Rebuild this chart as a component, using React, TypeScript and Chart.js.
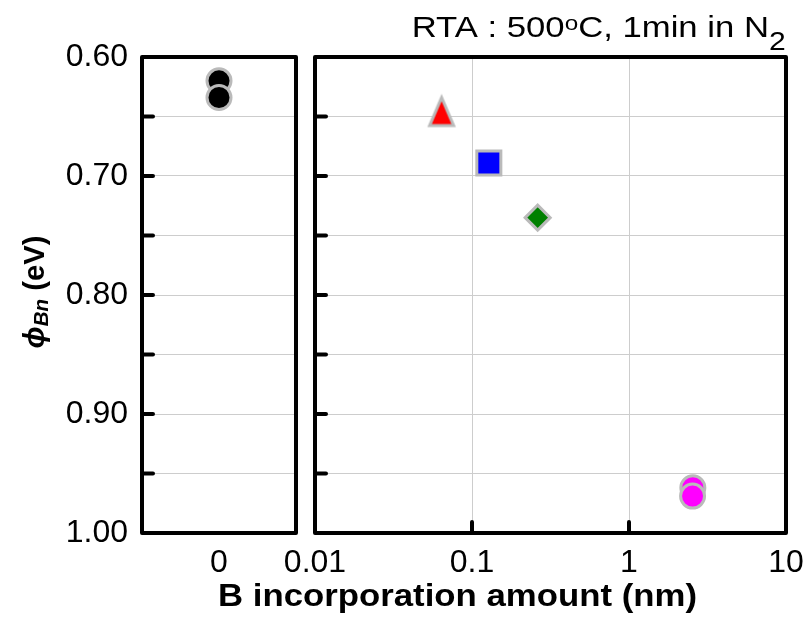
import React, { useEffect, useRef } from 'react';
import { Chart, registerables } from 'chart.js';

Chart.register(...registerables);

const FONT = "Arial, 'Liberation Sans', Helvetica, sans-serif";

// ---- Y axis (reversed) ----
const Y_MIN = 0.6;
const Y_MAX = 1.0;
const Y_STEP = 0.05;
const yTickLabels = ['0.60', '0.70', '0.80', '0.90', '1.00'];

// ---- Left panel: reference sample (0 nm) ----
const leftCategories = ['0'];
const refX = ['0', '0'];
const refY = [0.62, 0.634];

// ---- Right panel: log x axis ----
const X_MIN = 0.01;
const X_MAX = 10;
const xTickValues = [0.01, 0.1, 1, 10];
const xTickLabels = ['0.01', '0.1', '1', '10'];
const xInnerTickValues = [0.1, 1];

const triX = [0.064];
const triY = [0.645];
const sqX = [0.128];
const sqY = [0.689];
const diaX = [0.262];
const diaY = [0.735];
const magX = [2.55, 2.54];
const magY = [0.962, 0.969];

// ---- Texts ----
const annotationParts = ['RTA : 500', 'o', 'C, 1min in N', '2'];
const xTitleText = 'B incorporation amount (nm)';
const yTitleParts = ['\u03D5', 'Bn', ' (eV)'];

// ---- Layout ----
const W = 808;
const H = 618;
const TOP = 57;
const BOTTOM = 533;
const LEFT_L = 142;
const LEFT_R = 296;
const RIGHT_L = 315;
const RIGHT_R = 786;

const GRID = '#cdcdcd';
const BORDER = '#bababa';

type Seg = { text: string; font: string; dy: number };

function drawRich(ctx: CanvasRenderingContext2D, segs: Seg[], x: number, y: number, target: number, align: 'left' | 'center') {
  let w = 0;
  for (const s of segs) {
    ctx.font = s.font;
    w += ctx.measureText(s.text).width;
  }
  const sx = target / w;
  ctx.save();
  ctx.translate(x, y);
  ctx.scale(sx, 1);
  ctx.textAlign = 'left';
  ctx.textBaseline = 'alphabetic';
  let cx = align === 'center' ? -w / 2 : 0;
  for (const s of segs) {
    ctx.font = s.font;
    ctx.fillText(s.text, cx, s.dy);
    cx += ctx.measureText(s.text).width;
  }
  ctx.restore();
}

function makeTriangle(fill: string, stroke: string): HTMLCanvasElement {
  const c = document.createElement('canvas');
  c.width = 34;
  c.height = 36;
  const g = c.getContext('2d')!;
  g.beginPath();
  g.moveTo(17, 5);
  g.lineTo(29, 33);
  g.lineTo(5, 33);
  g.closePath();
  g.fillStyle = fill;
  g.fill();
  g.lineWidth = 3;
  g.lineJoin = 'miter';
  g.strokeStyle = stroke;
  g.stroke();
  return c;
}

function framePlugin(bottomTicks: number[]) {
  return {
    id: 'frameTicks',
    afterDatasetsDraw(chart: any) {
      const { ctx, chartArea: a } = chart;
      const ys = chart.scales.y;
      const xs = chart.scales.x;
      ctx.save();
      ctx.strokeStyle = '#000';
      ctx.lineWidth = 4;
      ctx.lineCap = 'round';
      ctx.beginPath();
      ys.ticks.forEach((t: any) => {
        if (t.value <= Y_MIN + 1e-9 || t.value >= Y_MAX - 1e-9) return;
        const p = ys.getPixelForValue(t.value);
        ctx.moveTo(a.left, p);
        ctx.lineTo(a.left + 11, p);
      });
      bottomTicks.forEach((v) => {
        const p = xs.getPixelForValue(v);
        ctx.moveTo(p, a.bottom);
        ctx.lineTo(p, a.bottom - 11);
      });
      ctx.stroke();
      ctx.lineJoin = 'round';
      ctx.strokeRect(a.left, a.top, a.right - a.left, a.bottom - a.top);
      ctx.restore();
    },
  };
}

const textPlugin = {
  id: 'texts',
  afterDraw(chart: any) {
    const ctx: CanvasRenderingContext2D = chart.ctx;
    ctx.save();
    ctx.fillStyle = '#000';
    drawRich(
      ctx,
      [
        { text: annotationParts[0], font: `30px ${FONT}`, dy: 0 },
        { text: annotationParts[1], font: `21px ${FONT}`, dy: -7 },
        { text: annotationParts[2], font: `30px ${FONT}`, dy: 0 },
        { text: annotationParts[3], font: `26px ${FONT}`, dy: 13 },
      ],
      411.7,
      36.7,
      374,
      'left'
    );
    drawRich(ctx, [{ text: xTitleText, font: `bold 31px ${FONT}`, dy: 0 }], 218, 606, 479, 'left');
    ctx.translate(44, 292);
    ctx.rotate(-Math.PI / 2);
    drawRich(
      ctx,
      [
        { text: yTitleParts[0], font: `italic bold 30px ${FONT}`, dy: 0 },
        { text: yTitleParts[1], font: `italic bold 21px ${FONT}`, dy: 4 },
        { text: yTitleParts[2], font: `bold 30px ${FONT}`, dy: 0 },
      ],
      0,
      0,
      113,
      'center'
    );
    ctx.restore();
  },
};

const yLabel = (v: any) => {
  const s = Number(v).toFixed(2);
  return yTickLabels.includes(s) ? s : '';
};

const tickFont = { family: FONT, size: 32 };

const fixXAxis = (s: any) => {
  s.height = H - BOTTOM;
  s.paddingLeft = 0;
  s.paddingRight = 0;
};

export default function App() {
  const leftRef = useRef<HTMLCanvasElement>(null);
  const rightRef = useRef<HTMLCanvasElement>(null);

  useEffect(() => {
    const tri = makeTriangle('#ff0000', BORDER);
    const common: any = {
      responsive: false,
      animation: false,
      events: [],
      plugins: { legend: { display: false }, tooltip: { enabled: false } },
    };

    const left = new Chart(leftRef.current!, {
      type: 'scatter',
      data: {
        datasets: [
          {
            data: refX.map((x, i) => ({ x, y: refY[i] })) as any,
            pointStyle: 'circle',
            pointRadius: 12,
            pointBackgroundColor: '#000000',
            pointBorderColor: BORDER,
            pointBorderWidth: 3,
          },
        ],
      },
      options: {
        ...common,
        layout: { padding: { left: 0, top: TOP, right: W - LEFT_R, bottom: 0 } },
        scales: {
          x: {
            type: 'category',
            labels: leftCategories,
            offset: true,
            grid: { display: false, drawTicks: false },
            border: { display: false },
            ticks: { font: tickFont, color: '#000', padding: 11, maxRotation: 0, autoSkip: false },
            afterFit: fixXAxis,
          },
          y: {
            type: 'linear',
            reverse: true,
            min: Y_MIN,
            max: Y_MAX,
            grid: { color: GRID, lineWidth: 1, drawTicks: false },
            border: { display: false },
            ticks: { stepSize: Y_STEP, font: tickFont, color: '#000', padding: 14, autoSkip: false, callback: yLabel },
            afterFit: (s: any) => {
              s.width = LEFT_L;
            },
          },
        },
      } as any,
      plugins: [framePlugin([])],
    });

    const mk = (xs: number[], ys: number[]) => xs.map((x, i) => ({ x, y: ys[i] }));

    const right = new Chart(rightRef.current!, {
      type: 'scatter',
      data: {
        datasets: [
          {
            data: mk(triX, triY),
            pointStyle: tri as any,
            pointRadius: 14,
          },
          {
            data: mk(sqX, sqY),
            pointStyle: 'rect',
            pointRadius: 17,
            pointBackgroundColor: '#0000ff',
            pointBorderColor: BORDER,
            pointBorderWidth: 3,
          },
          {
            data: mk(diaX, diaY),
            pointStyle: 'rectRot',
            pointRadius: 12.5,
            pointBackgroundColor: '#008000',
            pointBorderColor: BORDER,
            pointBorderWidth: 3,
          },
          {
            data: mk(magX, magY),
            pointStyle: 'circle',
            pointRadius: 12,
            pointBackgroundColor: '#ff00ff',
            pointBorderColor: BORDER,
            pointBorderWidth: 3,
          },
        ],
      },
      options: {
        ...common,
        layout: { padding: { left: RIGHT_L, top: TOP, right: W - RIGHT_R, bottom: 0 } },
        scales: {
          x: {
            type: 'logarithmic',
            min: X_MIN,
            max: X_MAX,
            afterBuildTicks: (s: any) => {
              s.ticks = xTickValues.map((v) => ({ value: v }));
            },
            grid: {
              color: (c: any) => (c.tick && xInnerTickValues.includes(c.tick.value) ? GRID : 'rgba(0,0,0,0)'),
              lineWidth: 1,
              drawTicks: false,
            },
            border: { display: false },
            ticks: {
              font: tickFont,
              color: '#000',
              padding: 11,
              maxRotation: 0,
              autoSkip: false,
              callback: (_v: any, i: number) => xTickLabels[i],
            },
            afterFit: fixXAxis,
          },
          y: {
            type: 'linear',
            reverse: true,
            min: Y_MIN,
            max: Y_MAX,
            grid: { color: GRID, lineWidth: 1, drawTicks: false },
            border: { display: false },
            ticks: { display: false, stepSize: Y_STEP },
            afterFit: (s: any) => {
              s.width = 0;
            },
          },
        },
      } as any,
      plugins: [framePlugin(xInnerTickValues), textPlugin],
    });

    return () => {
      left.destroy();
      right.destroy();
    };
  }, []);

  return (
    <div style={{ position: 'absolute', left: 0, top: 0, width: W, height: H, background: '#fff' }}>
      <canvas ref={leftRef} width={W} height={H} style={{ position: 'absolute', left: 0, top: 0 }} />
      <canvas ref={rightRef} width={W} height={H} style={{ position: 'absolute', left: 0, top: 0 }} />
    </div>
  );
}
